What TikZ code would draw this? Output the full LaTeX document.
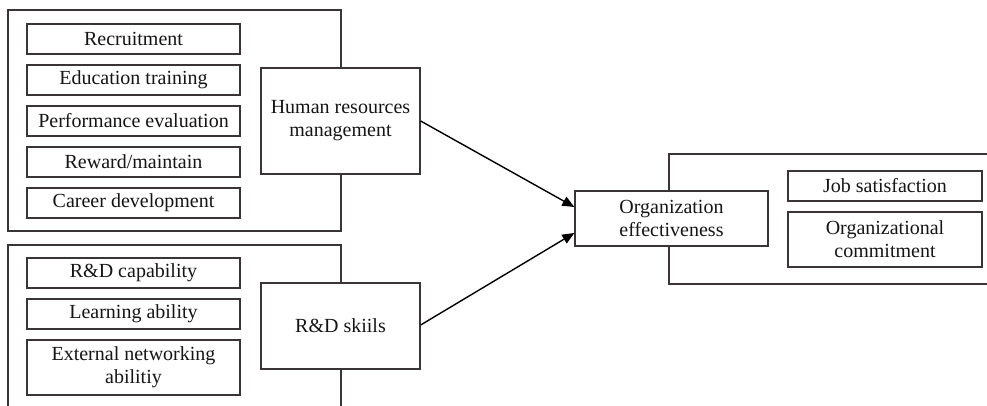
\documentclass[tikz,border=0pt]{standalone}
\usepackage{fontspec}
\setmainfont{Liberation Serif}
\usetikzlibrary{arrows.meta,calc}
\definecolor{edge}{HTML}{3A3434}
\definecolor{ink}{HTML}{151515}
\begin{document}
\begin{tikzpicture}[x=1pt,y=-1pt,
  box/.style={draw=edge,line width=1.3pt,fill=white,text=ink,inner sep=0pt,align=center,
     font=\fontsize{20}{23}\selectfont},
  frame/.style={draw=edge,line width=1.3pt},
  conn/.style={draw=black,line width=1.4pt,-{Triangle[length=12pt,width=10pt]}}]
\useasboundingbox (0,0) rectangle (987,406);
% outer frames
\draw[frame] (8,10) rectangle (341,231);
\draw[frame] (8,420) -- (8,245) -- (341,245) -- (341,420);
\draw[frame] (1000,154) -- (669,154) -- (669,284) -- (1000,284);
% HRM group
\node[box,minimum width=213pt,minimum height=30pt] (rec) at (133.5,39) {Recruitment};
\node[box,minimum width=213pt,minimum height=30pt] (edu) at (133.5,80) {Education training};
\node[box,minimum width=213pt,minimum height=30pt] (perf) at (133.5,121) {Performance evaluation};
\node[box,minimum width=213pt,minimum height=30pt] (rew) at (133.5,162) {Reward/maintain};
\node[box,minimum width=213pt,minimum height=30pt] (car) at (133.5,203) {Career development};
\node[box,minimum width=159pt,minimum height=106pt] (hrm) at (340.5,121) {Human resources\\management};
% R&D group
\node[box,minimum width=213pt,minimum height=30pt] (rdc) at (133.5,273) {R\&D capability};
\node[box,minimum width=213pt,minimum height=30pt] (lea) at (133.5,314) {Learning ability};
\node[box,minimum width=213pt,minimum height=55pt] (ext) at (133.5,367.5) {External networking\\abilitiy};
\node[box,minimum width=159pt,minimum height=86pt] (rds) at (340.5,326) {R\&D skiils};
% Outcome
\node[box,minimum width=193pt,minimum height=55pt] (oe) at (671.5,218.5) {Organization\\effectiveness};
\node[box,minimum width=194pt,minimum height=30pt] (job) at (885,186) {Job satisfaction};
\node[box,minimum width=194pt,minimum height=55pt] (com) at (885,239.5) {Organizational\\commitment};
% connectors
\draw[conn] (hrm.east) -- ($(oe.west)+(0,-11.5)$);
\draw[conn] ($(rds.east)+(0,-1)$) -- ($(oe.west)+(0,14.5)$);
\end{tikzpicture}
\end{document}
